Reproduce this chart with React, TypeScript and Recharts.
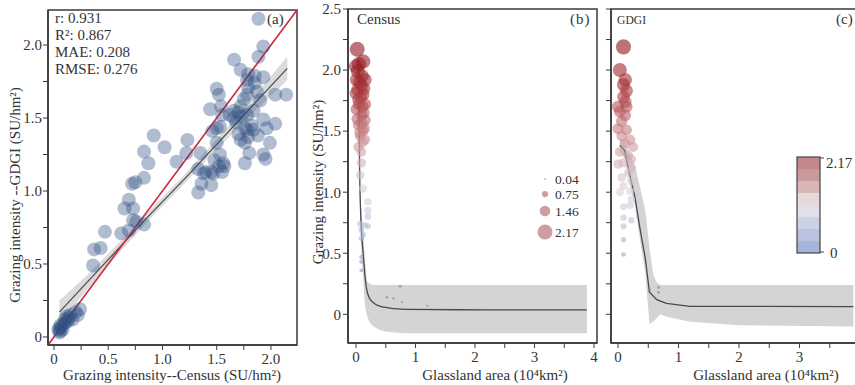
import React from 'react';
import { ComposedChart, Scatter, Line, Area, XAxis, YAxis, ReferenceLine, ReferenceArea } from 'recharts';

const FONT = "'Liberation Serif', 'Times New Roman', serif";
const INK = '#333333';

// ---------- Panel (a): Census vs GDGI ----------
const censusA = [
  0.04, 0.05, 0.06, 0.07, 0.05, 0.08, 0.09, 0.10, 0.12, 0.13, 0.14, 0.15, 0.11, 0.20, 0.22, 0.24, 0.17, 0.06,
  0.36, 0.37, 0.43, 0.47, 0.62, 0.69, 0.65, 0.69, 0.73, 0.72, 0.75, 0.73, 0.76, 0.83, 0.83, 0.83,
  0.87, 0.92, 1.02, 1.13, 1.23, 1.22, 1.33, 1.36, 1.45, 1.35, 1.33, 1.38, 1.40, 1.47, 1.45,
  1.52, 1.56, 1.53, 1.50, 1.46, 1.50, 1.53, 1.55, 1.44, 1.54, 1.50, 1.52, 1.57, 1.55, 1.48,
  1.66, 1.66, 1.70, 1.72, 1.75, 1.70, 1.72, 1.76, 1.79, 1.78, 1.84, 1.82, 1.76, 1.88, 1.93,
  1.96, 2.04, 1.99, 1.93, 1.95, 1.80, 1.76, 1.72, 1.79, 1.85, 1.93, 1.78, 1.85, 1.79, 1.87,
  1.78, 1.90, 2.04, 2.14, 1.885, 1.93, 1.885, 1.66, 1.62, 1.78, 1.84, 1.73, 1.68,
];
const gdgiA = [
  0.05, 0.06, 0.04, 0.07, 0.03, 0.05, 0.09, 0.12, 0.14, 0.11, 0.13, 0.15, 0.10, 0.17, 0.15, 0.19, 0.12, 0.08,
  0.49, 0.60, 0.61, 0.72, 0.71, 0.73, 0.88, 0.94, 0.88, 1.05, 1.06, 0.80, 0.79, 0.77, 1.09, 1.27,
  1.19, 1.38, 1.30, 1.20, 1.35, 1.26, 0.99, 1.05, 1.04, 1.26, 1.15, 1.12, 1.13, 1.12, 1.13,
  1.17, 1.19, 1.25, 1.33, 1.41, 1.43, 1.44, 1.52, 1.56, 1.58, 1.70, 1.66, 1.17, 1.13, 1.21,
  1.90, 1.50, 1.54, 1.58, 1.63, 1.39, 1.35, 1.33, 1.37, 1.42, 1.42, 1.45, 1.43, 1.38, 1.49,
  1.43, 1.46, 1.33, 1.25, 1.22, 1.26, 1.19, 1.83, 1.80, 1.79, 1.78, 1.76, 1.74, 1.71, 1.68,
  1.66, 1.62, 1.66, 1.66, 2.18, 1.99, 1.92, 1.55, 1.52, 1.52, 1.55, 1.51, 1.47,
];
const regX = [0.05, 0.3, 0.6, 0.9, 1.2, 1.5, 1.8, 2.15];
const regFit = [0.17, 0.37, 0.61, 0.85, 1.08, 1.32, 1.56, 1.84];
const regLow = [0.09, 0.32, 0.575, 0.82, 1.05, 1.285, 1.51, 1.76];
const regHigh = [0.25, 0.42, 0.645, 0.88, 1.11, 1.355, 1.61, 1.92];
const ticksA = [0, 0.25, 0.5, 0.75, 1, 1.25, 1.5, 1.75, 2];
const statsA = ['r: 0.931', 'R²: 0.867', 'MAE: 0.208', 'RMSE: 0.276'];

// ---------- Panel (b): Census vs grassland area ----------
const areaB = [
  0.02, 0.12, 0.0, 0.03, 0.15, 0.01, 0.09, 0.0, 0.12, 0.04, 0.15, 0.01, 0.09, 0.15, 0.04, 0.12, 0.07, 0.15, 0.04, 0.09,
  0.09, 0.07, 0.12, 0.20, 0.20, 0.20, 0.07, 0.15, 0.20, 0.09, 0.12, 0.09, 0.09, 0.09, 0.09, 0.74, 0.52, 0.63, 0.77, 1.2,
  0.05, 0.10, 0.06, 0.13, 0.03, 0.08, 0.11, 0.05, 0.13, 0.02, 0.10, 0.14, 0.06, 0.11,
];
const intensB = [
  2.17, 2.07, 2.03, 1.99, 1.92, 1.92, 1.87, 1.81, 1.80, 1.76, 1.72, 1.68, 1.63, 1.59, 1.55, 1.50, 1.46, 1.43, 1.37, 1.33,
  1.24, 1.14, 1.03, 0.92, 0.85, 0.80, 0.74, 0.73, 0.72, 0.69, 0.65, 0.62, 0.47, 0.43, 0.36, 0.23, 0.14, 0.13, 0.10, 0.07,
  2.05, 1.95, 1.90, 1.85, 1.84, 1.78, 1.70, 1.72, 1.65, 1.60, 1.56, 1.52, 1.49, 1.41,
];
const curveBX = [0.04, 0.05, 0.06, 0.08, 0.12, 0.17, 0.24, 0.44, 0.83, 2.2, 3.88];
const curveBY = [2.09, 1.75, 1.21, 0.80, 0.50, 0.23, 0.12, 0.06, 0.04, 0.037, 0.037];
const bandBX = [0.04, 0.05, 0.06, 0.08, 0.12, 0.15, 0.2, 0.3, 0.5, 0.9, 3.88];
const bandBLow = [2.0, 1.62, 1.08, 0.66, 0.30, 0.08, -0.03, -0.10, -0.14, -0.155, -0.155];
const bandBHigh = [2.25, 1.88, 1.34, 0.94, 0.70, 0.45, 0.26, 0.24, 0.24, 0.24, 0.24];
const ticksBX = [0, 0.5, 1, 1.5, 2, 2.5, 3, 3.5, 4];
const ticksBY = [0, 0.25, 0.5, 0.75, 1, 1.25, 1.5, 1.75, 2, 2.25, 2.5];
const sizeLegend = [0.04, 0.75, 1.46, 2.17];

// ---------- Panel (c): GDGI vs grassland area ----------
const areaC = [
  0.09, 0.03, 0.12, 0.09, 0.14, 0.09, 0.12, 0.0, 0.14, 0.03, 0.12, 0.06, 0.0, 0.14, 0.06, 0.2, 0.12, 0.25, 0.03, 0.17,
  0.22, 0.09, 0.0, 0.22, 0.17, 0.06, 0.22, 0.09, 0.2, 0.03, 0.22, 0.09, 0.2, 0.09, 0.22, 0.09, 0.09, 0.09, 0.52, 0.67, 0.67,
];
const intensC = [
  2.19, 2.0, 1.92, 1.88, 1.83, 1.78, 1.74, 1.70, 1.70, 1.66, 1.63, 1.58, 1.52, 1.51, 1.46, 1.43, 1.40, 1.37, 1.33, 1.30,
  1.27, 1.24, 1.23, 1.20, 1.16, 1.12, 1.09, 1.05, 1.01, 1.0, 0.94, 0.88, 0.89, 0.79, 0.77, 0.72, 0.61, 0.49, 0.2, 0.18, 0.22,
];
const curveCX = [0.03, 0.11, 0.19, 0.28, 0.36, 0.45, 0.52, 0.64, 0.8, 1.19, 3.89];
const curveCY = [1.385, 1.34, 1.15, 0.96, 0.71, 0.46, 0.18, 0.12, 0.09, 0.065, 0.063];
const bandCX = [0.03, 0.11, 0.19, 0.28, 0.36, 0.45, 0.52, 0.58, 0.64, 0.7, 0.8, 1.2, 2.0, 3.89];
const bandCLow = [1.33, 1.28, 1.08, 0.88, 0.62, 0.34, -0.08, -0.06, -0.03, 0.0, -0.02, -0.06, -0.09, -0.10];
const bandCHigh = [1.44, 1.42, 1.32, 1.22, 1.05, 0.85, 0.55, 0.33, 0.26, 0.24, 0.24, 0.24, 0.24, 0.24];
const ticksCX = [0, 0.5, 1, 1.5, 2, 2.5, 3, 3.5];
const ticksCY = [0, 0.25, 0.5, 0.75, 1, 1.25, 1.5, 1.75, 2, 2.25, 2.5];
const colorBar = ['#c4878b', '#cb999c', '#d8b5b6', '#e6d9d6', '#dfe0e9', '#ccd2e5', '#b9c3e0', '#a6b4da'];
const colorBarLabels = ['2.17', '0'];

// ---------- helpers ----------
const pts = (xs: number[], ys: number[]) => xs.map((x, i) => ({ x, y: ys[i] }));
const line = (xs: number[], ys: number[]) => xs.map((x, i) => ({ x, fit: ys[i] }));
const band = (xs: number[], lo: number[], hi: number[]) => xs.map((x, i) => ({ x, band: [lo[i], hi[i]] }));

const stops: [number, number[]][] = [
  [0, [88, 108, 168]],
  [0.7, [178, 188, 214]],
  [1.0, [216, 212, 220]],
  [1.4, [205, 150, 152]],
  [1.8, [170, 55, 60]],
  [2.2, [140, 15, 22]],
];
function bubbleColor(v: number) {
  for (let i = 1; i < stops.length; i++) {
    if (v <= stops[i][0]) {
      const [a, ca] = stops[i - 1];
      const [b, cb] = stops[i];
      const t = Math.max(0, (v - a) / (b - a));
      const c = ca.map((c0, k) => Math.round(c0 + (cb[k] - c0) * t));
      return `rgb(${c[0]},${c[1]},${c[2]})`;
    }
  }
  const c = stops[stops.length - 1][1];
  return `rgb(${c[0]},${c[1]},${c[2]})`;
}
const radius = (v: number) => 0.8 + 3.1 * v;

const Bubble = (props: any) => {
  const { cx, cy, payload } = props;
  if (cx == null || cy == null) return null;
  return <circle cx={cx} cy={cy} r={radius(payload.y)} fill={bubbleColor(payload.y)} fillOpacity={0.58} />;
};
const Dot = (props: any) => {
  const { cx, cy } = props;
  if (cx == null || cy == null) return null;
  return <circle cx={cx} cy={cy} r={7} fill="#2f4f80" fillOpacity={0.38} />;
};

const tickStyle = { fontSize: 15, fill: INK, fontFamily: FONT };
const axisLineStyle = { stroke: '#3a3a3a', strokeWidth: 1.5 };
const tickLineStyle = { stroke: '#3a3a3a', strokeWidth: 1 };
const fmtHalf = (v: number) => (Math.abs(v * 2 - Math.round(v * 2)) < 1e-6 ? (v === 0 ? '0' : v.toFixed(1)) : '');
const fmtInt = (v: number) => (Number.isInteger(v) ? String(v) : '');
const none = () => '';

const txt = { fontFamily: FONT, fontSize: 15, fill: INK } as const;
const legendY = [179, 194, 211, 232];

export default function App() {
  const dataA = pts(censusA, gdgiA);
  const fitA = line(regX, regFit);
  const bandA = band(regX, regLow, regHigh);
  const dataB = pts(areaB, intensB);
  const fitB = line(curveBX, curveBY);
  const bandB = band(bandBX, bandBLow, bandBHigh);
  const dataC = pts(areaC, intensC);
  const fitC = line(curveCX, curveCY);
  const bandCd = band(bandCX, bandCLow, bandCHigh);

  const domA: [number, number] = [-0.055, 2.24];
  const domBX: [number, number] = [-0.135, 4.05];
  const domY: [number, number] = [-0.235, 2.5];
  const domCX: [number, number] = [-0.116, 3.95];

  return (
    <div style={{ position: 'absolute', left: 0, top: 0, width: 855, height: 385, overflow: 'hidden', background: '#fff' }}>
      {/* Panel a */}
      <div style={{ position: 'absolute', left: 0, top: 0 }}>
        <ComposedChart width={300} height={385} margin={{ top: 10, right: 3, bottom: 0, left: 0 }}>
          <XAxis type="number" dataKey="x" domain={domA} allowDataOverflow ticks={ticksA} tickFormatter={fmtHalf}
            height={40} tickSize={5} tickMargin={3} tick={tickStyle} axisLine={axisLineStyle} tickLine={tickLineStyle} interval={0} />
          <YAxis type="number" dataKey="y" domain={domA} allowDataOverflow ticks={ticksA} tickFormatter={fmtHalf}
            width={48} tickSize={5} tickMargin={1} tick={tickStyle} axisLine={axisLineStyle} tickLine={tickLineStyle} interval={0} />
          <ReferenceArea x1={domA[0]} x2={domA[1]} y1={domA[0]} y2={domA[1]} fill="none" stroke="#3a3a3a" strokeWidth={1.5} />
          <Scatter data={dataA} shape={<Dot />} isAnimationActive={false} />
          <Area data={bandA} dataKey="band" type="linear" stroke="none" fill="#b8b8b8" fillOpacity={0.5} isAnimationActive={false} />
          <Line data={fitA} dataKey="fit" type="linear" stroke="#4a4a4a" strokeWidth={1.2} dot={false} isAnimationActive={false} />
          <ReferenceLine segment={[{ x: domA[0], y: domA[0] }, { x: domA[1], y: domA[1] }]} stroke="#d0283c" strokeWidth={1.6} />
        </ComposedChart>
      </div>

      {/* Panel b */}
      <div style={{ position: 'absolute', left: 300, top: 0 }}>
        <ComposedChart width={300} height={385} margin={{ top: 9, right: 3, bottom: 0, left: 0 }}>
          <XAxis type="number" dataKey="x" domain={domBX} allowDataOverflow ticks={ticksBX} tickFormatter={fmtInt}
            height={42} tickSize={5} tickMargin={3} tick={tickStyle} axisLine={axisLineStyle} tickLine={tickLineStyle} interval={0} />
          <YAxis type="number" dataKey="y" domain={domY} allowDataOverflow ticks={ticksBY} tickFormatter={fmtHalf}
            width={48} tickSize={5} tickMargin={2} tick={tickStyle} axisLine={axisLineStyle} tickLine={tickLineStyle} interval={0} />
          <ReferenceArea x1={domBX[0]} x2={domBX[1]} y1={domY[0]} y2={domY[1]} fill="none" stroke="#3a3a3a" strokeWidth={1.5} />
          <Area data={bandB} dataKey="band" type="monotone" stroke="none" fill="#d2d2d2" fillOpacity={0.95} isAnimationActive={false} />
          <Scatter data={dataB} shape={<Bubble />} isAnimationActive={false} />
          <Line data={fitB} dataKey="fit" type="monotone" stroke="#4a4a4a" strokeWidth={1.3} dot={false} isAnimationActive={false} />
        </ComposedChart>
      </div>

      {/* Panel c */}
      <div style={{ position: 'absolute', left: 600, top: 0 }}>
        <ComposedChart width={260} height={385} margin={{ top: 9, right: 3, bottom: 0, left: 0 }}>
          <XAxis type="number" dataKey="x" domain={domCX} allowDataOverflow ticks={ticksCX} tickFormatter={fmtInt}
            height={42} tickSize={5} tickMargin={3} tick={tickStyle} axisLine={axisLineStyle} tickLine={tickLineStyle} interval={0} />
          <YAxis type="number" dataKey="y" domain={domY} allowDataOverflow ticks={ticksCY} tickFormatter={none}
            width={11} tickSize={5} tickMargin={0} tick={tickStyle} axisLine={axisLineStyle} tickLine={tickLineStyle} interval={0} />
          <ReferenceArea x1={domCX[0]} x2={domCX[1]} y1={domY[0]} y2={domY[1]} fill="none" stroke="#3a3a3a" strokeWidth={1.5} />
          <Area data={bandCd} dataKey="band" type="linear" stroke="none" fill="#d2d2d2" fillOpacity={0.95} isAnimationActive={false} />
          <Scatter data={dataC} shape={<Bubble />} isAnimationActive={false} />
          <Line data={fitC} dataKey="fit" type="linear" stroke="#4a4a4a" strokeWidth={1.3} dot={false} isAnimationActive={false} />
        </ComposedChart>
      </div>

      {/* Annotations */}
      <svg width={855} height={385} style={{ position: 'absolute', left: 0, top: 0, pointerEvents: 'none' }}>
        {statsA.map((s, i) => (
          <text key={s} x={55} y={23 + i * 17} {...txt}>{s}</text>
        ))}
        <text x={267} y={24} {...txt}>(a)</text>
        <text x={357} y={24} {...txt}>Census</text>
        <text x={570} y={24} {...txt} letterSpacing={1}>(b)</text>
        <text x={617} y={24} {...txt} fontSize={13.5} textLength={29} lengthAdjust="spacingAndGlyphs">GDGI</text>
        <text x={836} y={24} {...txt}>(c)</text>

        <text transform="translate(15,195) rotate(-90)" textAnchor="middle" dominantBaseline="central" {...txt}>
          Grazing intensity --GDGI (SU/hm²)
        </text>
        <text x={172} y={380} textAnchor="middle" {...txt}>Grazing intensity--Census (SU/hm²)</text>
        <text transform="translate(318,182) rotate(-90)" textAnchor="middle" dominantBaseline="central" {...txt}>
          Grazing intensity (SU/hm²)
        </text>
        <text x={495} y={380} textAnchor="middle" {...txt}>Glassland area (10⁴km²)</text>
        <text x={766} y={380} textAnchor="middle" {...txt}>Glassland area (10⁴km²)</text>

        {sizeLegend.map((v, i) => {
          const cy = legendY[i];
          return (
            <g key={v}>
              <circle cx={545} cy={cy} r={radius(v)} fill={i === 0 ? '#a8a0a8' : '#c07e80'} fillOpacity={0.75} />
              <text x={555} y={cy + 4.5} {...txt} fontSize={13.5}>{v.toFixed(2)}</text>
            </g>
          );
        })}

        {colorBar.map((c, i) => (
          <rect key={c} x={797} y={157 + i * 12} width={23} height={12} fill={c} />
        ))}
        <rect x={797} y={157} width={23} height={96} fill="none" stroke="#444" strokeWidth={1.2} />
        <line x1={820} y1={158} x2={824} y2={158} stroke="#444" />
        <line x1={820} y1={252} x2={824} y2={252} stroke="#444" />
        <text x={826} y={168} {...txt}>{colorBarLabels[0]}</text>
        <text x={830} y={258} {...txt}>{colorBarLabels[1]}</text>
      </svg>
    </div>
  );
}
